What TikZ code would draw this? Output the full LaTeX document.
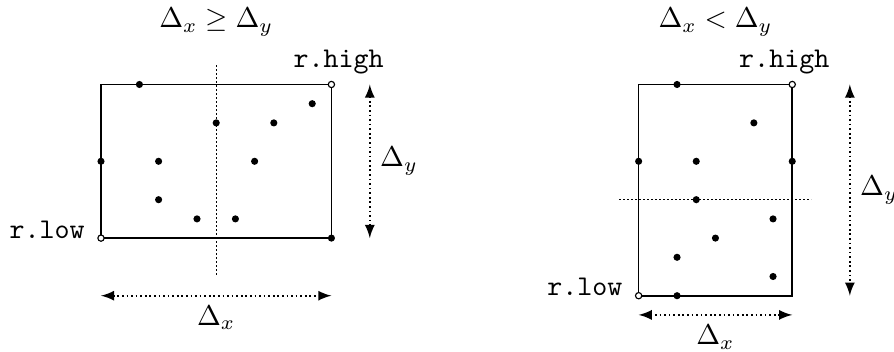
\documentclass[tikz,border=0pt]{standalone}
\usetikzlibrary{positioning}

\tikzset{
  punto/.style={circle, fill=black, inner sep=0pt, minimum size=2.5pt},
  vuoto/.style={circle, draw=black, fill=white, inner sep=0pt, minimum size=2.2pt},
  misura/.style={<->, densely dotted, semithick},
  taglio/.style={densely dotted}
}

\begin{document}
\begin{tikzpicture}[>=latex, x=6.72pt, y=6.72pt]
        \useasboundingbox (-5.26,-5.89) rectangle (41.30,12.40);

        % Caso Delta_x >= Delta_y
        \coordinate (lowA) at (0,0);
        \coordinate (highA) at (12,8);

        % Rettangolo e linea di taglio
        \draw[semithick] (lowA) rectangle (highA);
        \coordinate (cutA1) at (6,-1.9);
        \coordinate (cutA2) at (6,9);
        \draw[taglio] (cutA1) -- (cutA2);

        % Punti
        \foreach \p [count=\i] in {(2,8),(11,7),(6,6),(9,6),(0,4),(3,4),(8,4),(3,2),(5,1),(7,1),(12,0)}
          \node[punto] (pA\i) at \p {};
        \node[vuoto] (nlowA) at (lowA) {};
        \node[vuoto] (nhighA) at (highA) {};

        % Etichette angoli
        \node[above, xshift=2.5pt] (rhighA) at (highA) {\texttt{r.high}};
        \node[anchor=base east, xshift=-2.2pt] (rlowA) at (lowA) {\texttt{r.low}};

        % Misure
        \coordinate (dxA1) at (0,-3);
        \coordinate (dxA2) at (12,-3);
        \coordinate (dyA1) at (14,8);
        \coordinate (dyA2) at (14,0);
        \draw[misura] (dxA1) -- (dxA2) node[midway, below] {\( \Delta_x \)};
        \draw[misura] (dyA1) -- (dyA2) node[midway, right] {\( \Delta_y \)};

        \node (titA) at (6,11.25) {\( \Delta_x \geq \Delta_y \)};

        % Caso Delta_x < Delta_y
        \begin{scope}[shift={(28,-3)}]
        \coordinate (lowB) at (0,0);
        \coordinate (highB) at (8,11);

        % Rettangolo e linea di taglio
        \draw[semithick] (lowB) rectangle (highB);
        \coordinate (cutB1) at (-1,5);
        \coordinate (cutB2) at (9,5);
        \draw[taglio] (cutB1) -- (cutB2);

        % Punti
        \foreach \p [count=\i] in {(2,11),(6,9),(0,7),(3,7),(8,7),(3,5),(7,4),(4,3),(2,2),(7,1),(2,0)}
          \node[punto] (pB\i) at \p {};
        \node[vuoto] (nlowB) at (lowB) {};
        \node[vuoto] (nhighB) at (highB) {};

        % Etichette angoli
        \node[above, xshift=-2.8pt] (rhighB) at (highB) {\texttt{r.high}};
        \node[anchor=base east, xshift=-2.2pt] (rlowB) at (lowB) {\texttt{r.low}};

        % Misure
        \coordinate (dxB1) at (0,-1);
        \coordinate (dxB2) at (8,-1);
        \coordinate (dyB1) at (11,11);
        \coordinate (dyB2) at (11,0);
        \draw[misura] (dxB1) -- (dxB2) node[midway, below] {\( \Delta_x \)};
        \draw[misura] (dyB1) -- (dyB2) node[midway, right] {\( \Delta_y \)};

        \node (titB) at (4,14.25) {\( \Delta_x < \Delta_y \)};
        \end{scope}

    \end{tikzpicture}
\end{document}
